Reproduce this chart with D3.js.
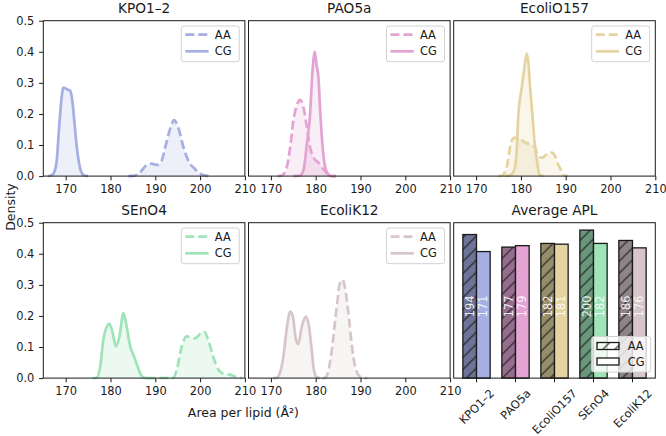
<!DOCTYPE html>
<html><head><meta charset="utf-8">
<script src="https://cdn.jsdelivr.net/npm/d3@7"></script>
<style>
body{margin:0;background:#fff}
svg{display:block;font-family:"DejaVu Sans",sans-serif}
</style></head><body>
<svg id="c" width="666" height="436"></svg>
<script>
// ---------- data ----------
const strains = ["KPO1–2", "PAO5a", "EcoliO157", "SEnO4", "EcoliK12"];
const seriesNames = ["AA", "CG"];
const xTicks = [170, 180, 190, 200, 210];
const yTicks = [0, 0.1, 0.2, 0.3, 0.4, 0.5];

const KPO_AA = [[184,0],[185.5,0.002],[186.6,0.012],[188.1,0.036],[189.2,0.04],[190.3,0.036],[191.4,0.049],[192.2,0.092],[193.3,0.151],[194.2,0.18],[195.1,0.157],[196.3,0.092],[197.4,0.049],[198.9,0.022],[200,0.008],[201.5,0.001],[202.5,0]];
const KPO_CG = [[166,0],[167,0.004],[167.5,0.015],[168,0.05],[168.5,0.15],[169,0.24],[169.5,0.285],[170,0.282],[170.5,0.278],[171,0.275],[171.5,0.24],[172,0.165],[172.5,0.09],[173,0.04],[173.5,0.012],[174,0.003],[175,0]];
const PAO_AA = [[171.5,0],[172.4,0.002],[173.5,0.027],[174.3,0.092],[175,0.178],[175.8,0.228],[176.5,0.245],[177.2,0.225],[178,0.16],[178.7,0.095],[179.5,0.06],[180.6,0.043],[181.7,0.022],[182.8,0.005],[183.6,0],[184.5,0]];
const PAO_CG = [[175,0],[176.5,0.002],[177.3,0.02],[178,0.1],[178.7,0.19],[179.3,0.34],[179.8,0.4],[180.2,0.355],[180.6,0.32],[181,0.21],[181.6,0.085],[182.1,0.03],[182.8,0.006],[183.6,0],[184.5,0]];
const O157_AA = [[175,0],[175.7,0.001],[176.8,0.027],[177.9,0.113],[178.7,0.124],[179.8,0.119],[180.9,0.108],[182,0.103],[183.1,0.092],[183.9,0.065],[184.6,0.059],[185.8,0.07],[186.9,0.076],[187.6,0.065],[188.3,0.038],[189.1,0.016],[189.6,0.003],[190.5,0]];
const O157_CG = [[176.5,0],[177.9,0.005],[178.7,0.03],[179.1,0.09],[179.4,0.19],[180.2,0.286],[180.8,0.35],[181.3,0.394],[181.7,0.36],[182,0.297],[182.6,0.19],[183.1,0.103],[183.7,0.038],[184.1,0.005],[185,0]];
const SEN_AA = [[188,0],[194,0.001],[194.8,0.027],[195.9,0.102],[197,0.134],[197.7,0.132],[198.9,0.128],[200,0.142],[200.9,0.15],[201.8,0.123],[202.9,0.07],[204.1,0.027],[205.2,0.014],[206.7,0.011],[208.2,0.003],[209.3,0]];
const SEN_CG = [[176,0],[176.9,0.001],[177.7,0.037],[178.4,0.123],[179.2,0.166],[179.7,0.175],[180.5,0.145],[181.2,0.102],[182,0.134],[182.9,0.209],[183.6,0.166],[184.4,0.102],[185.1,0.075],[185.8,0.048],[186.6,0.016],[187.3,0.002],[188,0]];
const K12_AA = [[181.5,0],[182.1,0.001],[182.8,0.021],[183.6,0.091],[184.7,0.23],[185.4,0.305],[186,0.316],[186.5,0.294],[187.3,0.209],[188,0.112],[188.8,0.037],[189.5,0.011],[190.6,0],[191.5,0]];
const K12_CG = [[170.5,0],[171.3,0.001],[172,0.016],[172.8,0.07],[173.5,0.155],[174.3,0.214],[174.9,0.198],[175.6,0.123],[176.1,0.11],[176.9,0.166],[177.8,0.198],[178.5,0.166],[179.1,0.091],[179.6,0.027],[180.2,0.003],[181,0]];

const densityAA = [KPO_AA, PAO_AA, O157_AA, SEN_AA, K12_AA];
const densityCG = [KPO_CG, PAO_CG, O157_CG, SEN_CG, K12_CG];

const aplAA = [194, 177, 182, 200, 186];
const aplCG = [171, 179, 181, 182, 176];

// ---------- styles ----------
const palette = ["#a5afe3", "#e3a4d4", "#e5d49f", "#9fe3b8", "#d6c6ca"];
const ink = "#1a1a1a";
const tickFont = 11.4, titleFont = 13.7, legendFont = 11.4, labelFont = 12.5;
const tickLen = 4.2, tickPad = 4.2;

const svg = d3.select("#c");
const colX = [43.3, 248.5, 453.7], rowY = [20.7, 222.7];
const W = 201.6, H = 155.4;

const defs = svg.append("defs");
const hs = 12;
defs.append("pattern").attr("id", "hatch").attr("patternUnits", "userSpaceOnUse")
  .attr("width", hs).attr("height", hs)
  .append("path")
  .attr("d", `M0,${hs} L${hs},0 M${-hs/2},${hs/2} L${hs/2},${-hs/2} M${hs/2},${hs*1.5} L${hs*1.5},${hs/2}`)
  .attr("stroke", ink).attr("stroke-width", 1.1);

function styleAxis(g) {
  g.select(".domain").remove();
  g.selectAll("line").attr("stroke", ink).attr("stroke-width", 1);
  g.selectAll("text").attr("fill", ink).style("font-size", tickFont + "px")
    .style("font-family", '"DejaVu Sans",sans-serif');
}

function title(g, t) {
  g.append("text").attr("x", W / 2).attr("y", -7.6).attr("text-anchor", "middle")
    .style("font-size", titleFont + "px").attr("fill", ink).text(t);
}

const x = d3.scaleLinear([165, 210], [0, W]);
const y = d3.scaleLinear([0, 0.5], [H, 0]);
const line = d3.line().x(d => x(d[0])).y(d => y(d[1])).curve(d3.curveMonotoneX);
const area = d3.area().x(d => x(d[0])).y0(y(0)).y1(d => y(d[1])).curve(d3.curveMonotoneX);

strains.forEach((s, i) => {
  const r = i < 3 ? 0 : 1, c = i < 3 ? i : i - 3;
  const g = svg.append("g").attr("transform", `translate(${colX[c]},${rowY[r]})`);
  const col = palette[i];
  [densityAA[i], densityCG[i]].forEach((d) => {
    g.append("path").datum(d).attr("d", area).attr("fill", col).attr("fill-opacity", 0.2);
  });
  [densityAA[i], densityCG[i]].forEach((d, k) => {
    g.append("path").datum(d).attr("d", line).attr("fill", "none").attr("stroke", col)
      .attr("stroke-width", 2.7).attr("stroke-linejoin", "round")
      .attr("stroke-dasharray", k === 0 ? "9,4" : null);
  });
  g.append("g").attr("transform", `translate(0,${H})`)
    .call(d3.axisBottom(x).tickValues(xTicks).tickFormat(d3.format("d")).tickSize(tickLen).tickPadding(tickPad))
    .call(styleAxis);
  if (c === 0) {
    g.append("g").call(d3.axisLeft(y).tickValues(yTicks).tickFormat(d3.format(".1f")).tickSize(tickLen).tickPadding(tickPad + 0.6))
      .call(styleAxis);
  }
  g.append("rect").attr("width", W).attr("height", H).attr("fill", "none").attr("stroke", ink).attr("stroke-width", 1);
  title(g, s);
  // legend
  const lw = 58, lh = 35.7;
  const lg = g.append("g").attr("transform", `translate(${W - 5.6 - lw},5.3)`);
  lg.append("rect").attr("width", lw).attr("height", lh).attr("rx", 2.5)
    .attr("fill", "#fff").attr("fill-opacity", 0.8).attr("stroke", "#d2d2d2").attr("stroke-width", 1);
  seriesNames.forEach((n, k) => {
    const yy = 8.6 + k * 16.7;
    lg.append("line").attr("x1", 4).attr("x2", 27.3).attr("y1", yy).attr("y2", yy)
      .attr("stroke", col).attr("stroke-width", 2.7).attr("stroke-dasharray", k === 0 ? "9,4" : null);
    lg.append("text").attr("x", 33.5).attr("y", yy).attr("dy", "0.36em")
      .style("font-size", legendFont + "px").attr("fill", ink).text(n);
  });
});

// ---------- bar panel ----------
{
  const g = svg.append("g").attr("transform", `translate(${colX[2]},${rowY[1]})`);
  const xb = d3.scaleLinear([-0.585, 4.585], [0, W]);
  const yb = d3.scaleLinear([0, 210], [H, 0]);
  const bw = 0.35;
  strains.forEach((s, i) => {
    const col = palette[i];
    const dark = d3.rgb(col).darker(1.15).formatHex();
    const xa = xb(i - bw), xc = xb(i), xe = xb(i + bw);
    g.append("rect").attr("x", xa).attr("y", yb(aplAA[i])).attr("width", xc - xa).attr("height", yb(0) - yb(aplAA[i]))
      .attr("fill", dark);
    g.append("rect").attr("x", xa).attr("y", yb(aplAA[i])).attr("width", xc - xa).attr("height", yb(0) - yb(aplAA[i]))
      .attr("fill", "url(#hatch)").attr("stroke", ink).attr("stroke-width", 1.3);
    g.append("rect").attr("x", xc).attr("y", yb(aplCG[i])).attr("width", xe - xc).attr("height", yb(0) - yb(aplCG[i]))
      .attr("fill", col).attr("stroke", ink).attr("stroke-width", 1.3);
    [[aplAA[i], i - bw / 2], [aplCG[i], i + bw / 2]].forEach(([v, p]) => {
      const cx = xb(p), cy = yb(97);
      g.append("text").attr("x", cx).attr("y", cy).attr("dy", "0.36em").attr("text-anchor", "middle")
        .attr("transform", `rotate(-90,${cx},${cy})`)
        .style("font-size", tickFont + "px").attr("fill", "#fff").attr("fill-opacity", 0.9).text(v);
    });
  });
  g.append("rect").attr("width", W).attr("height", H).attr("fill", "none").attr("stroke", ink).attr("stroke-width", 1);
  // x ticks
  strains.forEach((s, i) => {
    const tx = xb(i);
    g.append("line").attr("x1", tx).attr("x2", tx).attr("y1", H).attr("y2", H + tickLen).attr("stroke", ink);
    const t = g.append("text").style("font-size", tickFont + "px").attr("fill", ink)
      .attr("text-anchor", "middle").text(s);
    const w = t.node().getComputedTextLength();
    const h = tickFont * 1.16;
    const bh = (w + h) * Math.SQRT1_2;
    const cy = H + tickLen + tickPad + bh / 2;
    t.attr("x", tx).attr("y", cy).attr("dy", "0.36em").attr("transform", `rotate(-45,${tx},${cy})`);
  });
  title(g, "Average APL");
  // legend
  const lw = 59, lh = 35.6;
  const lg = g.append("g").attr("transform", `translate(${W - 4.6 - lw},${H - 6 - lh})`);
  lg.append("rect").attr("width", lw).attr("height", lh).attr("rx", 2.5)
    .attr("fill", "#fff").attr("fill-opacity", 0.8).attr("stroke", "#d2d2d2");
  seriesNames.forEach((n, k) => {
    const yy = 9.5 + k * 15.5;
    lg.append("rect").attr("x", 5.3).attr("y", yy - 3.5).attr("width", 22).attr("height", 7)
      .attr("fill", k === 0 ? "url(#hatch)" : "#fff").attr("stroke", ink).attr("stroke-width", 1.3);
    lg.append("text").attr("x", 36).attr("y", yy).attr("dy", "0.36em")
      .style("font-size", legendFont + "px").attr("fill", ink).text(n);
  });
}

// ---------- global labels ----------
svg.append("text").attr("transform", "translate(10,207) rotate(-90)").attr("text-anchor", "middle")
  .attr("dy", "0.36em").style("font-size", labelFont + "px").attr("fill", ink).text("Density");
svg.append("text").attr("x", 243.4).attr("y", 417).attr("text-anchor", "middle")
  .style("font-size", labelFont + "px").attr("fill", ink).text("Area per lipid (Å²)");
</script></body></html>
